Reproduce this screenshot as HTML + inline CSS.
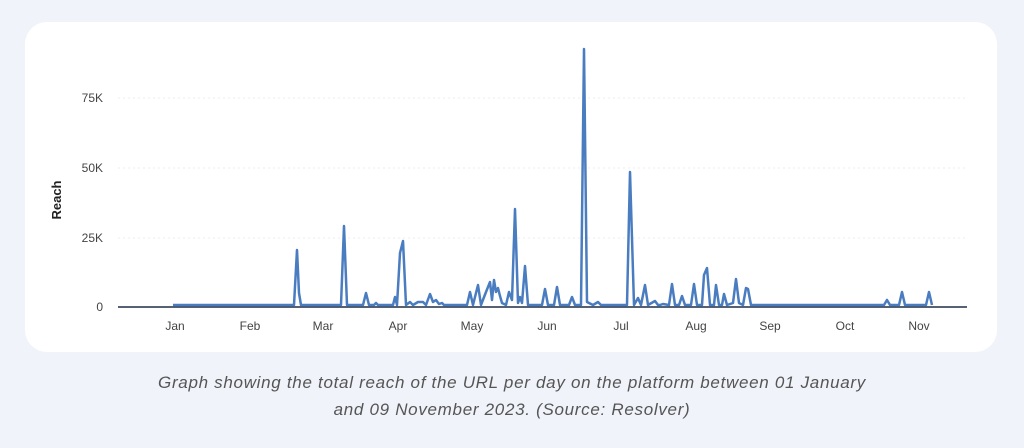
<!DOCTYPE html>
<html><head><style>
body{margin:0;width:1024px;height:448px;background:#f0f3fa;font-family:"Liberation Sans",sans-serif;overflow:hidden;position:relative}
.card{position:absolute;left:25px;top:22px;width:972px;height:330px;background:#fff;border-radius:22px}
.cap{position:absolute;left:0;width:1024px;text-align:center;font-style:italic;color:#555;font-size:17px;letter-spacing:0.7px;line-height:20px}
</style></head><body>
<div class="card"></div>
<svg width="1024" height="448" style="position:absolute;left:0;top:0">
<g stroke="#eee" stroke-dasharray="2,3" stroke-width="1">
<line x1="118" x2="967" y1="98" y2="98"/><line x1="118" x2="967" y1="168" y2="168"/><line x1="118" x2="967" y1="238" y2="238"/></g>
<g font-size="12" fill="#444" text-anchor="end">
<text x="103" y="102">75K</text><text x="103" y="172">50K</text><text x="103" y="242">25K</text><text x="103" y="311">0</text></g>
<text transform="translate(61,200) rotate(-90)" font-size="13" font-weight="bold" fill="#222" text-anchor="middle">Reach</text>
<g font-size="12" fill="#444" text-anchor="middle">
<text x="175" y="330">Jan</text><text x="250" y="330">Feb</text><text x="323" y="330">Mar</text><text x="398" y="330">Apr</text><text x="472" y="330">May</text><text x="547" y="330">Jun</text><text x="621" y="330">Jul</text><text x="696" y="330">Aug</text><text x="770" y="330">Sep</text><text x="845" y="330">Oct</text><text x="919" y="330">Nov</text></g>
<line x1="118" x2="967" y1="307" y2="307" stroke="#1f2d45" stroke-width="1.5"/>
<polyline fill="none" stroke="#4a7cc0" stroke-width="2.5" stroke-linejoin="round" points="173,305 294,305 297,250 299,293 301,305 341,305 344,226 347,305 363,305 366,293 369,305 374,305 376,303 378,305 393,305 395,297 397,305 400,253 403,241 406,305 410,302 413,305 418,302 423,302 426,305 430,294 433,302 436,300 439,304 442,303 444,305 467,305 470,292 473,305 478,285 481,305 486,292 490,282 492,300 494,280 496,292 498,288 500,296 502,303 506,305 509,292 512,300 515,209 518,303 520,297 522,303 525,266 528,305 542,305 545,289 548,305 554,305 557,287 560,305 569,305 572,297 575,305 581,305 584,49 587,302 593,305 598,302 601,305 627,305 630,172 634,305 638,298 641,305 645,285 648,305 655,301 658,305 660,305 663,304 669,305 672,284 675,305 679,305 682,296 685,305 691,305 694,284 697,305 702,305 704,275 707,268 710,305 714,305 716,285 719,305 722,305 724,294 727,305 733,303 736,279 739,303 743,305 746,288 748,289 751,305 884,305 887,300 890,305 899,305 902,292 905,305 926,305 929,292 932,305"/>
</svg>
<div class="cap" style="top:373px">Graph showing the total reach of the URL per day on the platform between 01 January</div>
<div class="cap" style="top:400px">and 09 November 2023. (Source: Resolver)</div>
</body></html>
